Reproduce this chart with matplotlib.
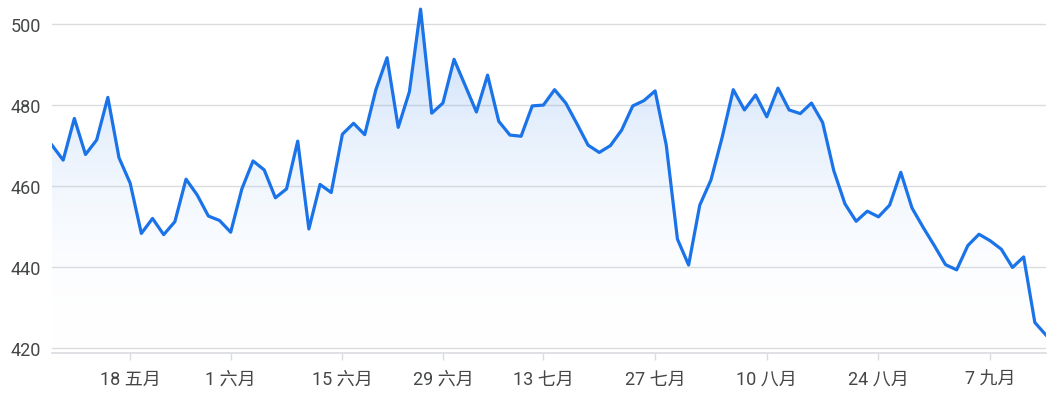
import numpy as np
import pandas as pd
import matplotlib
matplotlib.use("Agg")
import matplotlib.pyplot as plt
from matplotlib.colors import LinearSegmentedColormap

plt.rcParams["font.family"] = ["Roboto", "Noto Sans CJK SC", "DejaVu Sans"]

# trading days (US market, 2023)
holidays = ["2023-05-29", "2023-06-19", "2023-07-04"]
dates = pd.bdate_range("2023-05-09", periods=90, freq="C", holidays=holidays)

prices = [470.1, 466.4, 476.7, 467.8, 471.4, 481.9, 467.0, 460.7, 448.3, 452.0,
          448.0, 451.2, 461.7, 457.8, 452.6, 451.5, 448.6, 459.3, 466.2, 464.0,
          457.1, 459.3, 471.1, 449.4, 460.4, 458.4, 472.8, 475.5, 472.7, 483.8,
          491.7, 474.5, 483.3, 503.7, 478.0, 480.5, 491.3, 484.8, 478.3, 487.4,
          476.0, 472.6, 472.3, 479.8, 480.0, 483.8, 480.5, 475.4, 470.1, 468.3,
          470.0, 473.8, 479.8, 481.1, 483.5, 470.1, 446.9, 440.5, 455.3, 461.5,
          472.0, 483.8, 478.8, 482.5, 477.1, 484.2, 478.8, 477.9, 480.5, 475.7,
          463.8, 455.6, 451.3, 453.8, 452.4, 455.3, 463.4, 454.6, 449.8, 445.3,
          440.6, 439.3, 445.3, 448.1, 446.5, 444.4, 439.9, 442.5, 426.3, 423.2]

tick_dates = ["2023-05-18", "2023-06-01", "2023-06-15", "2023-06-29", "2023-07-13",
              "2023-07-27", "2023-08-10", "2023-08-24", "2023-09-07"]
tick_labels = ["18 五月", "1 六月", "15 六月", "29 六月", "13 七月",
               "27 七月", "10 八月", "24 八月", "7 九月"]
y_ticks = [420, 440, 460, 480, 500]

BLUE = "#1a73e8"
GRID = "#dadce0"
TEXT = "#444746"

x = np.arange(len(prices))
y = np.array(prices)
ylo, yhi = 418.77, 506.2

fig = plt.figure(figsize=(10.59, 4.10), dpi=100)
ax = fig.add_axes([52 / 1059, 56 / 410, (1046 - 52) / 1059, 354 / 410])

# gradient under the line, fading to white at the bottom
cmap = LinearSegmentedColormap.from_list("fade", [(1, 1, 1, 0), (0.102, 0.451, 0.91, 0.27)])
grad = np.linspace(0, 1, 256).reshape(-1, 1)
img = ax.imshow(grad, cmap=cmap, aspect="auto", origin="lower",
                extent=[x[0], x[-1], ylo, yhi], zorder=1)
poly = ax.fill_between(x, y, ylo, color="none", lw=0)
img.set_clip_path(poly.get_paths()[0], transform=ax.transData)

ax.plot(x, y, color=BLUE, lw=2.3, zorder=3)

ax.set_xlim(x[0], x[-1])
ax.set_ylim(ylo, yhi)

for v in y_ticks:
    ax.axhline(v, color=GRID, lw=1.0, zorder=0)

pos = [dates.get_loc(pd.Timestamp(d)) for d in tick_dates]
ax.set_xticks(pos)
ax.set_xticklabels(tick_labels)
ax.set_yticks(y_ticks)
ax.set_yticklabels([str(v) for v in y_ticks])

ax.tick_params(axis="x", length=5, width=1, color=GRID, pad=7, labelsize=13, labelcolor=TEXT)
ax.tick_params(axis="y", length=0, pad=8, labelsize=13, labelcolor=TEXT)

for s in ["top", "right", "left"]:
    ax.spines[s].set_visible(False)
ax.spines["bottom"].set_color(GRID)
ax.spines["bottom"].set_linewidth(1.2)

fig.savefig("out.png", dpi=100, facecolor="white")
